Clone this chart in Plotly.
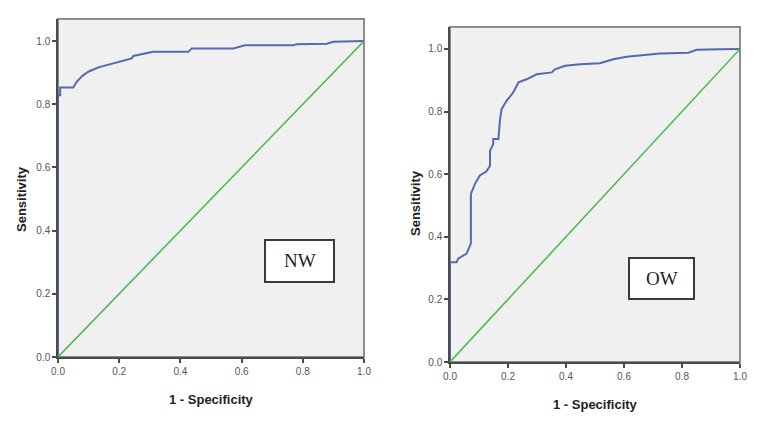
import plotly.graph_objects as go
from plotly.subplots import make_subplots

# ROC curve values
nw_fpr = [0, 0, 0.007, 0.007, 0.05, 0.061, 0.08, 0.099, 0.132, 0.181, 0.241, 0.246,
          0.311, 0.426, 0.437, 0.573, 0.611, 0.769, 0.78, 0.878, 0.9, 1.0]
nw_tpr = [0, 0.829, 0.829, 0.853, 0.853, 0.871, 0.89, 0.903, 0.917, 0.929, 0.945, 0.953,
          0.966, 0.966, 0.977, 0.977, 0.987, 0.987, 0.99, 0.992, 0.998, 1.0]

ow_fpr = [0, 0, 0.023, 0.028, 0.057, 0.063, 0.072, 0.072, 0.086, 0.103, 0.126, 0.138,
          0.138, 0.149, 0.149, 0.167, 0.172, 0.178, 0.195, 0.218, 0.236, 0.264, 0.299,
          0.351, 0.362, 0.397, 0.448, 0.517, 0.563, 0.609, 0.724, 0.822, 0.851, 0.931, 1.0]
ow_tpr = [0, 0.319, 0.319, 0.33, 0.346, 0.357, 0.378, 0.537, 0.569, 0.596, 0.609, 0.627,
          0.675, 0.696, 0.712, 0.712, 0.771, 0.808, 0.834, 0.861, 0.893, 0.903, 0.919,
          0.925, 0.935, 0.946, 0.951, 0.954, 0.967, 0.975, 0.985, 0.988, 0.997, 0.999, 1.0]

ref_x = [0, 1]
ref_y = [0, 1]

tick_vals = [0, 0.2, 0.4, 0.6, 0.8, 1.0]
panel_labels = ["NW", "OW"]

blue = "#5568b2"
green = "#52b855"

# page body keeps its 8px margin, so the figure is 16px smaller to fit the window exactly
W, H, OFF = 747, 416, 8


def px(x):
    return (x - OFF) / W


def py(y):
    return 1 - (y - OFF) / H


fig = make_subplots(rows=1, cols=2)

fig.add_trace(go.Scatter(x=nw_fpr, y=nw_tpr, mode="lines", line=dict(color=blue, width=2)), row=1, col=1)
fig.add_trace(go.Scatter(x=ref_x, y=ref_y, mode="lines", line=dict(color=green, width=1.6)), row=1, col=1)
fig.add_trace(go.Scatter(x=ow_fpr, y=ow_tpr, mode="lines", line=dict(color=blue, width=2)), row=1, col=2)
fig.add_trace(go.Scatter(x=ref_x, y=ref_y, mode="lines", line=dict(color=green, width=1.6)), row=1, col=2)

axis_style = dict(
    showline=True, linecolor="#4a4a4a", linewidth=1.5, mirror=False,
    ticks="outside", ticklen=4, tickcolor="#4a4a4a", tickwidth=1.5,
    tickvals=tick_vals, tickformat=".1f",
    tickfont=dict(family="Arial", size=10, color="#555555"),
    showgrid=False, zeroline=False, fixedrange=True, automargin=False,
)

fig.update_xaxes(axis_style, range=[0, 1])
fig.update_yaxes(axis_style, range=[0, 1.07])

fig.update_layout(
    width=W, height=H,
    margin=dict(l=0, r=0, t=0, b=0),
    paper_bgcolor="white",
    plot_bgcolor="#f0f0f0",
    showlegend=False,
    xaxis=dict(domain=[px(58), px(364)]),
    yaxis=dict(domain=[py(357), py(19)]),
    xaxis2=dict(domain=[px(450), px(740)]),
    yaxis2=dict(domain=[py(362), py(27)]),
)

# grey frame round each plot area
for xr, yr in [("x domain", "y domain"), ("x2 domain", "y2 domain")]:
    fig.add_shape(type="rect", xref=xr, yref=yr, x0=0, x1=1, y0=0, y1=1,
                  line=dict(color="#8c8c8c", width=2), layer="below")

# label boxes
fig.add_shape(type="rect", xref="paper", yref="paper", x0=px(265), x1=px(334), y0=py(282), y1=py(240),
              line=dict(color="#3a3a3a", width=2), fillcolor="white")
fig.add_shape(type="rect", xref="paper", yref="paper", x0=px(629), x1=px(694), y0=py(299), y1=py(258),
              line=dict(color="#3a3a3a", width=2), fillcolor="white")

label_font = dict(family="Liberation Serif", size=19, color="#222222")
fig.add_annotation(x=px(299.5), y=py(261), xref="paper", yref="paper", text=panel_labels[0],
                   showarrow=False, xanchor="center", yanchor="middle", font=label_font)
fig.add_annotation(x=px(661.5), y=py(278.5), xref="paper", yref="paper", text=panel_labels[1],
                   showarrow=False, xanchor="center", yanchor="middle", font=label_font)

# axis titles
title_font = dict(family="Arial", size=13, color="#222222")
titles = [
    (211, 399, "1 - Specificity", 0),
    (595, 404, "1 - Specificity", 0),
    (21, 199, "Sensitivity", -90),
    (415, 203, "Sensitivity", -90),
]
for tx, ty, txt, ang in titles:
    fig.add_annotation(x=px(tx), y=py(ty), xref="paper", yref="paper", text="<b>" + txt + "</b>",
                       textangle=ang, showarrow=False, xanchor="center", yanchor="middle",
                       font=title_font)

fig.write_html("out.html")
